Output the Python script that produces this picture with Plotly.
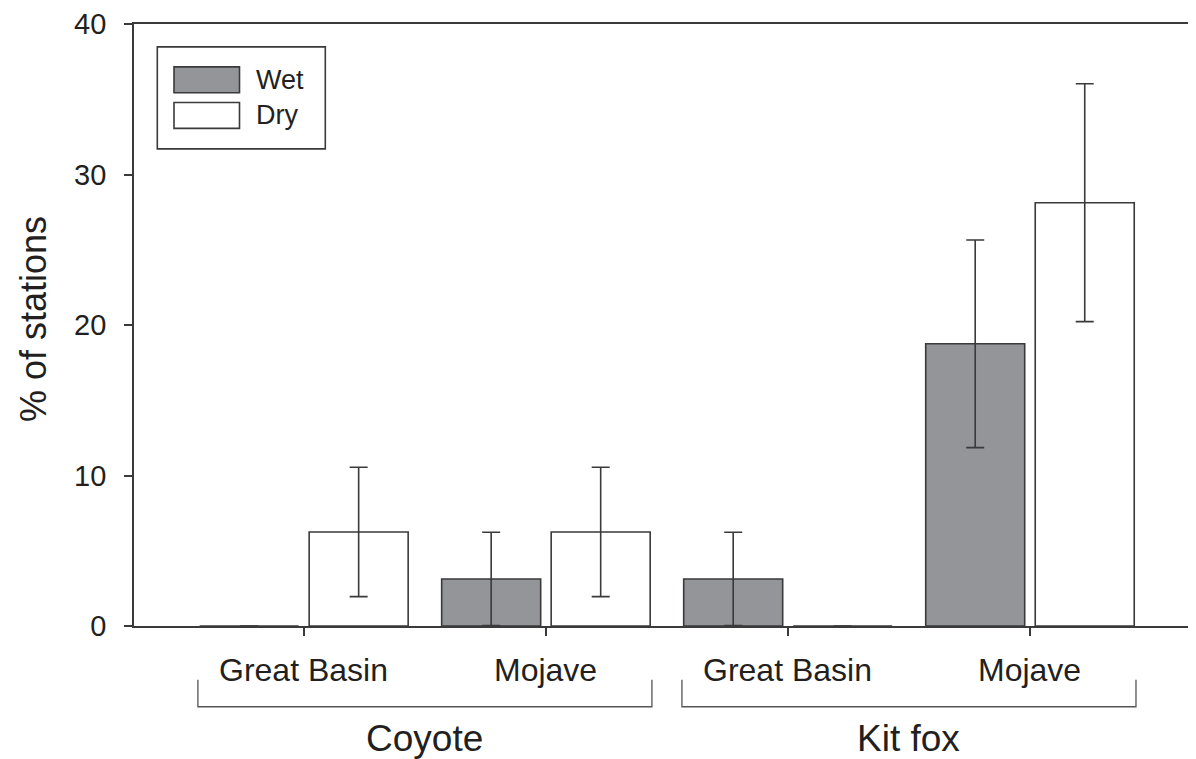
import plotly.graph_objects as go

# ---- data ----
regions = ["Great Basin", "Mojave", "Great Basin", "Mojave"]
species = ["Coyote", "Kit fox"]
species_members = [[0, 1], [2, 3]]
wet = [0, 3.125, 3.125, 18.75]
wet_err = [0, 3.1, 3.1, 6.9]
dry = [6.25, 6.25, 0, 28.125]
dry_err = [4.3, 4.3, 0, 7.9]
y_ticks = [0, 10, 20, 30, 40]
series_names = ["Wet", "Dry"]

# ---- style ----
FONT = "Liberation Sans, Arial, Helvetica, sans-serif"
TXT = "#231f20"
LINE = "#3a3a3a"
WET_FILL = "#939598"
DRY_FILL = "#ffffff"

OFF = 8  # page body margin in the browser
W, H = 1196 - OFF, 759 - OFF
ML, MR, MT, MB = 134 - OFF, 0, 22 - OFF, 133
PW, PH = W - ML - MR, H - MT - MB

def py(p):  # page pixel y -> paper y
    return (H - MB - (p - OFF)) / PH

def px(p):  # page pixel x -> paper x
    return (p - OFF - ML) / PW

x = list(range(len(regions)))

fig = go.Figure()
for name, vals, errs, fill in [("Wet", wet, wet_err, WET_FILL), ("Dry", dry, dry_err, DRY_FILL)]:
    fig.add_trace(go.Bar(
        x=x, y=vals, name=name,
        marker=dict(color=fill, line=dict(color=LINE, width=1.6)),
        error_y=dict(type="data", array=errs, visible=True,
                     color=LINE, thickness=1.6, width=9),
        showlegend=False,
    ))

annotations = []
shapes = []

# sub-category labels
for i, r in enumerate(regions):
    annotations.append(dict(x=i, y=py(670), xref="x", yref="paper", text=r,
                            showarrow=False, xanchor="center", yanchor="middle",
                            font=dict(family=FONT, size=32, color=TXT)))

# species brackets and labels
half = 0.938
for sp, members in zip(species, species_members):
    c = sum(members) / len(members)
    x0, x1 = c - half, c + half
    shapes.append(dict(type="path", xref="x", yref="paper",
                       path=f"M {x0},{py(680)} L {x0},{py(707)} L {x1},{py(707)} L {x1},{py(680)}",
                       line=dict(color="#555555", width=1.3)))
    annotations.append(dict(x=c, y=py(739), xref="x", yref="paper", text=sp,
                            showarrow=False, xanchor="center", yanchor="middle",
                            font=dict(family=FONT, size=37, color=TXT)))

# y-axis title
annotations.append(dict(x=px(33), y=py(318), xref="paper", yref="paper",
                        text="% of stations", textangle=-90, showarrow=False,
                        xanchor="center", yanchor="middle",
                        font=dict(family=FONT, size=36, color=TXT)))

# legend box
shapes.append(dict(type="rect", xref="paper", yref="paper",
                   x0=px(157.3), x1=px(325.3), y0=py(147.3), y1=py(45),
                   line=dict(color=LINE, width=1.6), fillcolor="white"))
for name, fill, top, bot in [("Wet", WET_FILL, 65, 91), ("Dry", DRY_FILL, 100.7, 126.7)]:
    shapes.append(dict(type="rect", xref="paper", yref="paper",
                       x0=px(174), x1=px(239.5), y0=py(bot), y1=py(top),
                       line=dict(color=LINE, width=1.6), fillcolor=fill))
    annotations.append(dict(x=px(254), y=py((top + bot) / 2), xref="paper", yref="paper",
                            text=name, showarrow=False, xanchor="left", yanchor="middle",
                            font=dict(family=FONT, size=27, color=TXT)))

fig.update_layout(
    width=W, height=H,
    margin=dict(l=ML, r=MR, t=MT, b=MB, pad=0),
    paper_bgcolor="white", plot_bgcolor="white",
    barmode="group", bargap=0.095, bargroupgap=0.096,
    showlegend=False,
    annotations=annotations, shapes=shapes,
    xaxis=dict(range=[-0.702, 3.686], tickmode="array", tickvals=x,
               ticktext=["" for _ in x], ticks="outside", ticklen=8,
               tickwidth=1.6, tickcolor=LINE,
               showline=True, linecolor=LINE, linewidth=1.8, mirror=True,
               showgrid=False, zeroline=False, fixedrange=True),
    yaxis=dict(range=[0, 40], tickmode="array", tickvals=y_ticks,
               ticktext=[str(v) for v in y_ticks],
               ticks="outside", ticklen=8, tickwidth=1.6, tickcolor=LINE,
               ticklabelstandoff=12, ticklabeloverflow="allow",
               showline=True, linecolor=LINE, linewidth=1.8,
               showgrid=False, zeroline=False, fixedrange=True,
               tickfont=dict(family=FONT, size=29, color=TXT)),
)

fig.write_html("out.html")
